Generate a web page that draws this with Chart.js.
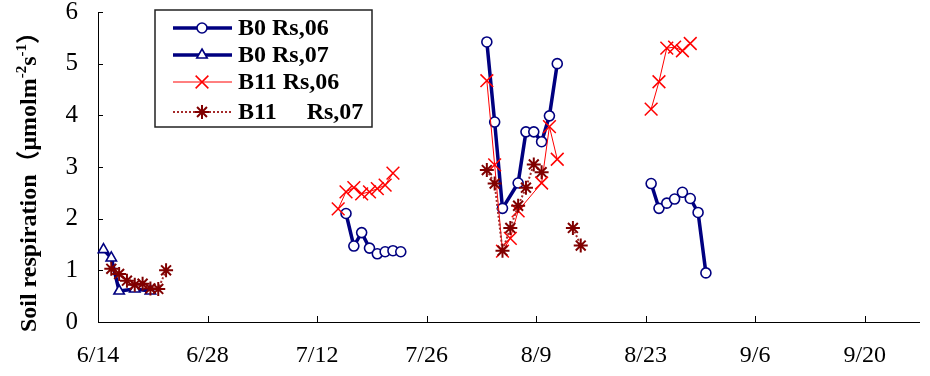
<!DOCTYPE html>
<html lang="en">
<head>
<meta charset="UTF-8" />
<title>Soil respiration</title>
<style>
  html, body { margin: 0; padding: 0; background: #fff; }
  #wrap { width: 930px; height: 376px; position: relative; }
</style>
</head>
<body>
<div id="wrap"><canvas id="myChart"></canvas></div>

<script src="https://cdn.jsdelivr.net/npm/chart.js@4.4.1/dist/chart.umd.min.js"></script>
<script>
  // values (dates are M/D, null = break in the line)
  var xTickLabels = ['6/14', '6/28', '7/12', '7/26', '8/9', '8/23', '9/6', '9/20'];
  var xStart = '6/14';
  var xEnd = '9/27';
  var yTicks = [0, 1, 2, 3, 4, 5, 6];

  var b0rs06Dates = ['7/15', '7/16', '7/17', '7/18', '7/19', '7/20', '7/21', '7/22', '7/28',
    '8/2', '8/3', '8/4', '8/6', '8/7', '8/8', '8/9', '8/10', '8/11', '8/17',
    '8/23', '8/24', '8/25', '8/26', '8/27', '8/28', '8/29', '8/30'];
  var b0rs06Values = [2.1, 1.47, 1.73, 1.43, 1.32, 1.36, 1.38, 1.36, null,
    5.42, 3.87, 2.2, 2.69, 3.68, 3.68, 3.49, 3.99, 5.0, null,
    2.68, 2.2, 2.3, 2.38, 2.51, 2.39, 2.12, 0.95];

  var b0rs07Dates = ['6/14', '6/15', '6/16', '6/18', '6/20'];
  var b0rs07Values = [1.4, 1.24, 0.6, 0.64, 0.6];

  var b11rs06Dates = ['7/14', '7/15', '7/16', '7/17', '7/18', '7/19', '7/20', '7/21', '7/28',
    '8/2', '8/3', '8/4', '8/5', '8/6', '8/9', '8/10', '8/11', '8/17',
    '8/23', '8/24', '8/25', '8/26', '8/27', '8/28'];
  var b11rs06Values = [2.19, 2.52, 2.6, 2.48, 2.52, 2.58, 2.65, 2.88, null,
    4.67, 3.04, 1.37, 1.62, 2.15, 2.69, 3.78, 3.15, null,
    4.12, 4.65, 5.3, 5.32, 5.25, 5.39];

  var b11rs07Dates = ['6/15', '6/16', '6/17', '6/18', '6/19', '6/20', '6/21', '6/22', '7/28',
    '8/2', '8/3', '8/4', '8/5', '8/6', '8/7', '8/8', '8/9', '8/11',
    '8/13', '8/14'];
  var b11rs07Values = [1.03, 0.93, 0.8, 0.72, 0.74, 0.65, 0.64, 1.0, null,
    2.94, 2.68, 1.38, 1.82, 2.25, 2.6, 3.05, 2.9, null,
    1.82, 1.48];
</script>

<script>
  var DAY = 86400000;
  var base = Date.UTC(2006, 5, 14);

  function toDay(md) {
    var p = md.split('/');
    return Math.round((Date.UTC(2006, +p[0] - 1, +p[1]) - base) / DAY);
  }
  function dayLabel(v) {
    var d = new Date(base + v * DAY);
    return (d.getUTCMonth() + 1) + '/' + d.getUTCDate();
  }
  // date axis: measurements were taken during the day, plotted a bit past midnight tick
  function pts(dates, vals) {
    return dates.map(function (d, i) {
      return { x: toDay(d) + 0.7, y: vals[i] };
    });
  }

  var navy = '#000080';
  var red = '#ff0000';
  var maroon = '#800000';
  var serif = '"Liberation Serif", "Times New Roman", "Noto Sans CJK SC", serif';

  var decor = {
    id: 'decor',
    afterDraw: function (chart) {
      var ctx = chart.ctx;
      var a = chart.chartArea;
      var xs = chart.scales.x;
      var ys = chart.scales.y;

      // inward tick marks
      ctx.save();
      ctx.strokeStyle = '#000';
      ctx.lineWidth = 1;
      ctx.beginPath();
      ys.ticks.forEach(function (t) {
        var py = Math.round(ys.getPixelForValue(t.value)) + 0.5;
        ctx.moveTo(a.left, py);
        ctx.lineTo(a.left + 5, py);
      });
      xs.ticks.forEach(function (t) {
        var px = Math.round(xs.getPixelForValue(t.value)) + 0.5;
        ctx.moveTo(px, a.bottom);
        ctx.lineTo(px, a.bottom - 6);
      });
      ctx.stroke();
      ctx.restore();

      // y axis title with superscripts
      var segs = [
        ['Soil respiration', false],
        ['（μmolm', false],
        ['-2', true],
        ['s', false],
        ['-1', true],
        ['）', false]
      ];
      var big = 'bold 24px ' + serif;
      var small = 'bold 15px ' + serif;
      ctx.save();
      var total = 0;
      segs.forEach(function (s) {
        ctx.font = s[1] ? small : big;
        total += ctx.measureText(s[0]).width;
      });
      ctx.translate(36, 176);
      ctx.rotate(-Math.PI / 2);
      ctx.fillStyle = '#000';
      ctx.textBaseline = 'alphabetic';
      var cx = -total / 2;
      segs.forEach(function (s) {
        ctx.font = s[1] ? small : big;
        ctx.fillText(s[0], cx, s[1] ? -10 : 0);
        cx += ctx.measureText(s[0]).width;
      });
      ctx.restore();

      // legend box inside the plot
      var bx = a.left + 57, by = 10, bw = 217, bh = 117;
      var rows = [28, 55, 82, 112];
      ctx.save();
      ctx.fillStyle = '#fff';
      ctx.fillRect(bx, by, bw, bh);
      ctx.strokeStyle = '#222';
      ctx.lineWidth = 1.5;
      ctx.strokeRect(bx, by, bw, bh);
      chart.data.datasets.forEach(function (ds, i) {
        var y = rows[i];
        ctx.save();
        ctx.strokeStyle = ds.borderColor;
        ctx.lineWidth = ds.borderWidth;
        ctx.setLineDash(ds.borderDash || []);
        ctx.beginPath();
        ctx.moveTo(bx + 18, y);
        ctx.lineTo(bx + 77, y);
        ctx.stroke();
        ctx.setLineDash([]);
        ctx.fillStyle = ds.pointBackgroundColor;
        ctx.strokeStyle = ds.pointBorderColor;
        ctx.lineWidth = ds.pointBorderWidth;
        if (Chart.helpers && Chart.helpers.drawPoint) {
          Chart.helpers.drawPoint(ctx, {
            pointStyle: ds.pointStyle,
            radius: ds.pointRadius,
            borderWidth: ds.pointBorderWidth,
            rotation: 0
          }, bx + 47, y);
        }
        ctx.restore();
        ctx.fillStyle = '#000';
        ctx.font = 'bold 24px ' + serif;
        ctx.textBaseline = 'middle';
        ctx.fillText(ds.label, bx + 83, y + 1);
      });
      ctx.restore();
    }
  };

  var ctx = document.getElementById('myChart').getContext('2d');
  var myChart = new Chart(ctx, {
    type: 'line',
    data: {
      datasets: [
        {
          label: 'B0 Rs,06',
          data: pts(b0rs06Dates, b0rs06Values),
          borderColor: navy,
          borderWidth: 3.5,
          pointStyle: 'circle',
          pointRadius: 5,
          pointBorderWidth: 1.6,
          pointBackgroundColor: '#fff',
          pointBorderColor: navy,
          order: 4
        },
        {
          label: 'B0 Rs,07',
          data: pts(b0rs07Dates, b0rs07Values),
          borderColor: navy,
          borderWidth: 3.5,
          pointStyle: 'triangle',
          pointRadius: 6,
          pointBorderWidth: 1.6,
          pointBackgroundColor: '#fff',
          pointBorderColor: navy,
          order: 3
        },
        {
          label: 'B11 Rs,06',
          data: pts(b11rs06Dates, b11rs06Values),
          borderColor: red,
          borderWidth: 1,
          pointStyle: 'crossRot',
          pointRadius: 9,
          pointBorderWidth: 1.5,
          pointBackgroundColor: red,
          pointBorderColor: red,
          order: 2
        },
        {
          label: 'B11     Rs,07',
          data: pts(b11rs07Dates, b11rs07Values),
          borderColor: '#a52a2a',
          borderWidth: 2,
          borderDash: [2, 2],
          pointStyle: 'star',
          pointRadius: 7,
          pointBorderWidth: 2,
          pointBackgroundColor: maroon,
          pointBorderColor: maroon,
          order: 1
        }
      ]
    },
    options: {
      responsive: true,
      maintainAspectRatio: false,
      animation: false,
      events: [],
      layout: { padding: { top: 12, right: 9, bottom: 0, left: 0 } },
      elements: { line: { tension: 0, spanGaps: false } },
      datasets: { line: { clip: false } },
      scales: {
        x: {
          type: 'linear',
          min: toDay(xStart),
          max: toDay(xEnd),
          grid: { display: true, drawOnChartArea: false, drawTicks: false },
          border: { display: true, color: '#000', width: 1 },
          afterBuildTicks: function (scale) {
            scale.ticks = xTickLabels.map(function (l) { return { value: toDay(l) }; });
          },
          afterFit: function (scale) {
            scale.height = 54;
            scale.paddingLeft = 0;
            scale.paddingRight = 0;
          },
          ticks: {
            autoSkip: false,
            maxRotation: 0,
            padding: 19,
            color: '#000',
            font: { family: serif, size: 24 },
            callback: function (v) { return dayLabel(v); }
          }
        },
        y: {
          min: yTicks[0],
          max: yTicks[yTicks.length - 1],
          grid: { display: true, drawOnChartArea: false, drawTicks: false },
          border: { display: true, color: '#000', width: 1 },
          afterBuildTicks: function (scale) {
            scale.ticks = yTicks.map(function (v) { return { value: v }; });
          },
          afterFit: function (scale) {
            scale.width = 98;
            scale.paddingTop = 0;
            scale.paddingBottom = 0;
          },
          ticks: {
            padding: 20,
            color: '#000',
            font: { family: serif, size: 25 }
          }
        }
      },
      plugins: {
        legend: { display: false },
        tooltip: { enabled: false }
      }
    },
    plugins: [decor]
  });
</script>
</body>
</html>
